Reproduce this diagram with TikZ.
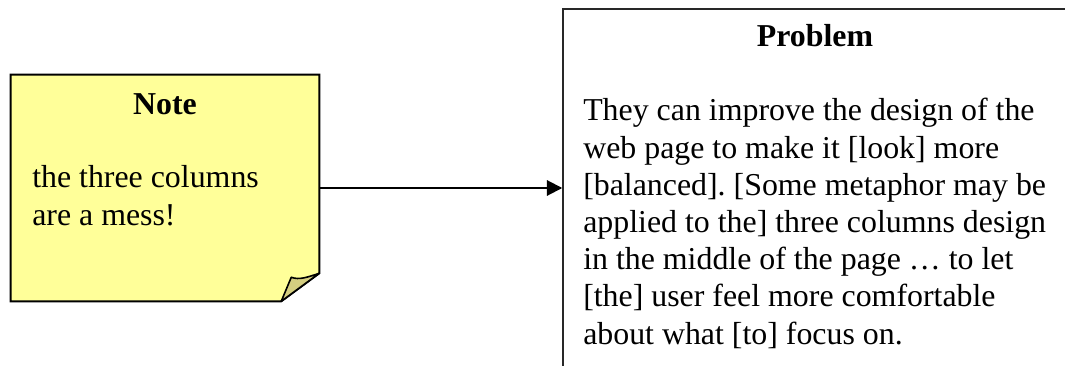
\documentclass[tikz,border=0pt]{standalone}
\usepackage{fontspec}
\setmainfont{Liberation Serif}
\usetikzlibrary{arrows.meta,calc}
\definecolor{noteyellow}{RGB}{255,255,153}
\definecolor{notefold}{RGB}{212,206,128}
\definecolor{probedge}{RGB}{40,40,40}
\frenchspacing

\begin{document}
\begin{tikzpicture}[x=0.75pt,y=-0.75pt,
  notebox/.style={minimum width=231pt,minimum height=169.5pt,inner sep=0pt},
  probbox/.style={draw=probedge,line width=1.1pt,minimum width=378pt,minimum height=268.5pt,inner sep=0pt},
  headtext/.style={font=\fontsize{23.9}{28}\selectfont\bfseries,inner sep=0pt,anchor=base},
  bodytext/.style={font=\fontsize{23.9}{28}\selectfont,inner sep=0pt,anchor=base west},
  conn/.style={line width=1.5pt,-{Triangle[length=11.5pt,width=11.5pt]}}]
\useasboundingbox (0,0) rectangle (1065,366);
\clip (0,0) rectangle (1065,366);
% sticky note
\node[notebox] (note) at (165,188) {};
\draw[line width=1.5pt,fill=noteyellow] (note.north west) -- (note.north east) -- ($(note.south east)+(0,-28)$)
  -- ($(note.south east)+(-38,0)$) -- (note.south west) -- cycle;
\draw[line width=1.2pt,fill=notefold,line join=round] ($(note.south east)+(-38,0)$) -- ($(note.south east)+(-28,-24)$)
  .. controls ($(note.south east)+(-20,-21)$) and ($(note.south east)+(-12,-24)$) .. ($(note.south east)+(0,-28)$) -- cycle;
\node[headtext] (notetitle) at (165,115) {Note};
\node[bodytext] (noteline1) at (32,188) {the three columns};
\node[bodytext] (noteline2) at (32,226) {are a mess!};
% problem box
\node[probbox] (prob) at (815,188) {};
\node[headtext] (probtitle) at (815,47) {Problem};
\foreach \txt [count=\i] in {{They can improve the design of the},{web page to make it [look] more},
  {[balanced]. [Some metaphor may be},{applied to the] three columns design},{in the middle of the page … to let},
  {[the] user feel more comfortable},{about what [to] focus on.}}
  \node[bodytext] (probline\i) at (583,{121+37.2*(\i-1)}) {\txt};
\draw[conn] (note.east) -- (prob.west);
\end{tikzpicture}
\end{document}
